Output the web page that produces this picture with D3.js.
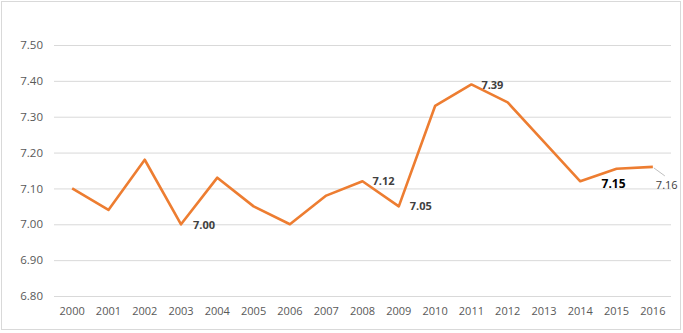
<!DOCTYPE html>
<html><head><meta charset="utf-8">
<script src="https://cdn.jsdelivr.net/npm/d3@7"></script>
<style>body{margin:0;background:#fff}svg{display:block}</style>
</head><body>
<svg id="c" width="683" height="333"></svg>
<script>
const years = ["2000","2001","2002","2003","2004","2005","2006","2007","2008","2009","2010","2011","2012","2013","2014","2015","2016"];
const values = [7.10,7.04,7.18,7.00,7.13,7.05,7.00,7.08,7.12,7.05,7.33,7.39,7.34,7.23,7.12,7.155,7.16];
const yTicks = [6.80,6.90,7.00,7.10,7.20,7.30,7.40,7.50];
const labelYears = ["2003","2008","2009","2011","2015","2016"];
const labelTexts = ["7.00","7.12","7.05","7.39","7.15","7.16"];

const svg = d3.select("#c");
const font = "'Open Sans', 'Noto Sans', sans-serif";
svg.append("rect").attr("x",1.5).attr("y",1.5).attr("width",679).attr("height",328)
  .attr("fill","#fff").attr("stroke","#d9d9d9");

const x = d3.scaleBand().domain(years).range([54,671]);
const y = d3.scaleLinear().domain([6.8,7.5]).range([296,45]);
const cx = d => x(d) + x.bandwidth()/2;

const yAxis = svg.append("g").attr("transform","translate(54,0)")
  .call(d3.axisLeft(y).tickValues(yTicks).tickSize(-617).tickFormat(d3.format(".2f")).tickPadding(11));
yAxis.select(".domain").remove();
yAxis.selectAll("line").attr("stroke","#d9d9d9");
yAxis.selectAll("text").attr("fill","#595959").style("font-family",font).style("font-size","11.5px");

const xAxis = svg.append("g").attr("transform","translate(0,296)")
  .call(d3.axisBottom(x).tickSize(0).tickPadding(11));
xAxis.select(".domain").remove();
xAxis.selectAll("text").attr("fill","#595959").style("font-family",font).style("font-size","11px");

const line = d3.line().x((d,i)=>cx(years[i])).y(d=>y(d));
svg.append("path").datum(values).attr("d",line).attr("fill","none")
  .attr("stroke","#ED7D31").attr("stroke-width",2.6).attr("stroke-linejoin","round");

const offs = {"2003":[12,1],"2008":[10,0],"2009":[11,0],"2011":[10,1],"2015":[-15,15],"2016":[3,18.5]};
labelYears.forEach((yr,i)=>{
  const v = values[years.indexOf(yr)];
  const o = offs[yr];
  if (yr==="2016") {
    svg.append("line").attr("x1",cx(yr)+1).attr("y1",y(v)+1).attr("x2",cx(yr)+12).attr("y2",y(v)+9)
      .attr("stroke","#bfbfbf").attr("stroke-width",1);
  }
  svg.append("text").attr("x",cx(yr)+o[0]).attr("y",y(v)+o[1]+4).attr("text-anchor","start")
    .attr("fill", yr==="2015" ? "#000" : "#404040")
    .style("font-family",font).style("font-size", yr==="2015" ? "12px" : "11px")
    .style("font-weight", yr==="2016" ? "normal" : "bold")
    .text(labelTexts[i]);
});
</script>
</body></html>
